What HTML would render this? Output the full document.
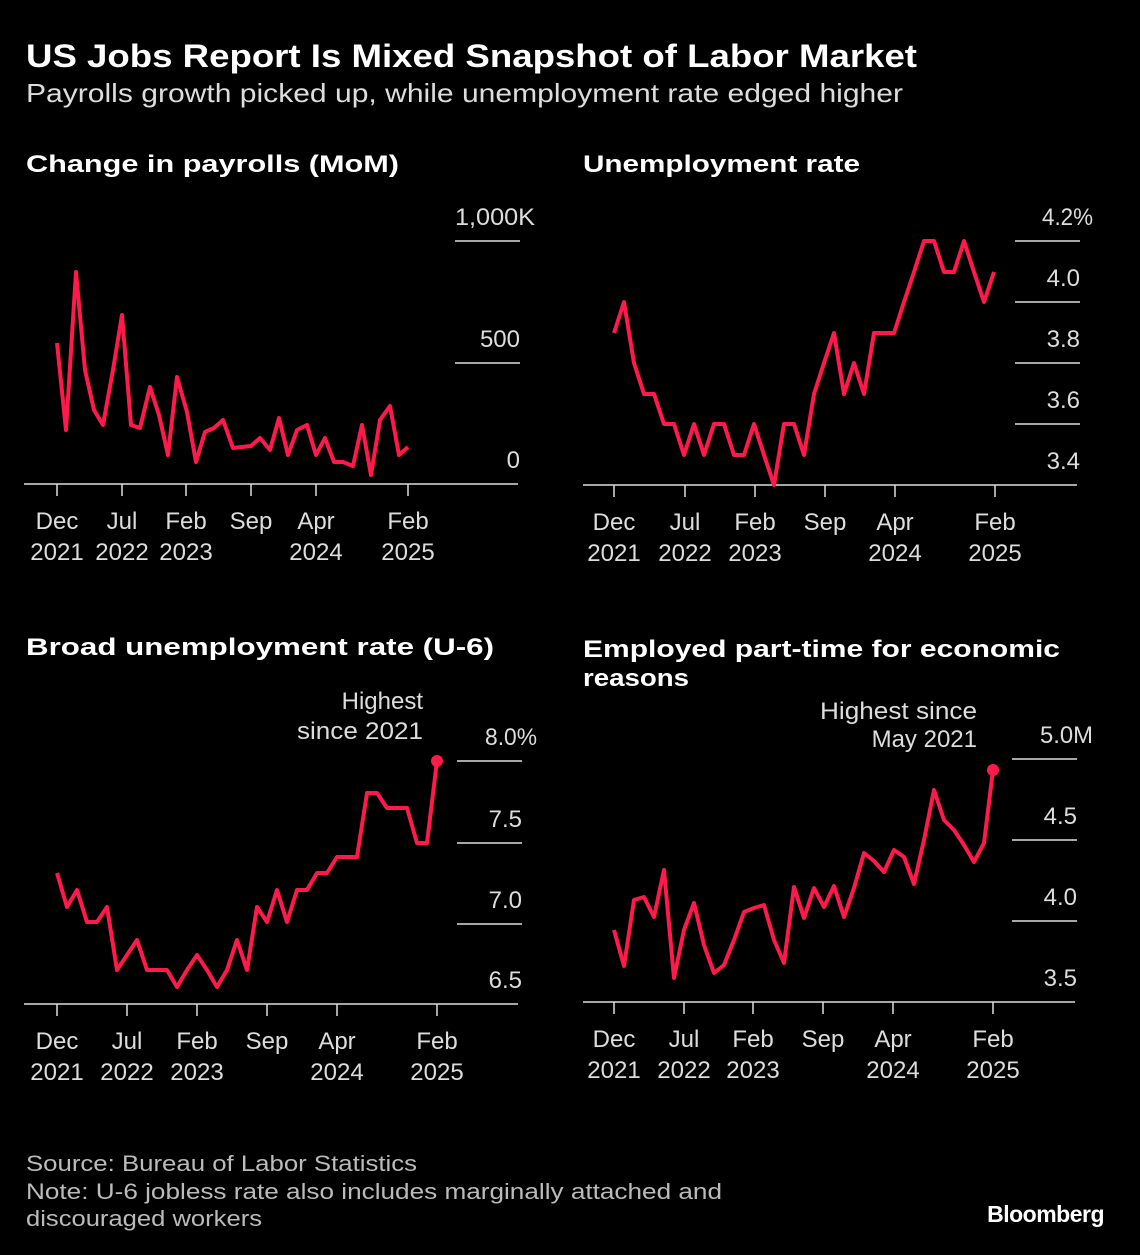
<!DOCTYPE html>
<html><head><meta charset="utf-8"><style>
html,body{margin:0;padding:0;background:#000;}
svg{display:block;font-family:"Liberation Sans","DejaVu Sans",sans-serif;}
.t{fill:#fff;font-weight:bold;}
.lab{fill:#ddd;font-size:24px;}
.ax{stroke:#ddd;stroke-width:1.5;}
.ln{fill:none;stroke:#ff1a4b;stroke-width:4;stroke-linejoin:round;}
</style></head><body>
<svg width="1140" height="1255" viewBox="0 0 1140 1255">
<text x="26" y="67" class="t" font-size="32" textLength="891" lengthAdjust="spacingAndGlyphs">US Jobs Report Is Mixed Snapshot of Labor Market</text>
<text x="26" y="102" fill="#ddd" font-size="26" textLength="877" lengthAdjust="spacingAndGlyphs">Payrolls growth picked up, while unemployment rate edged higher</text>

<text x="26" y="172" class="t" font-size="24" textLength="373" lengthAdjust="spacingAndGlyphs">Change in payrolls (MoM)</text>
<text x="583" y="172" class="t" font-size="24" textLength="277" lengthAdjust="spacingAndGlyphs">Unemployment rate</text>
<text x="26" y="655" class="t" font-size="24" textLength="468" lengthAdjust="spacingAndGlyphs">Broad unemployment rate (U-6)</text>
<text x="583" y="657" class="t" font-size="24" textLength="477" lengthAdjust="spacingAndGlyphs">Employed part-time for economic</text>
<text x="583" y="686" class="t" font-size="24" textLength="106" lengthAdjust="spacingAndGlyphs">reasons</text>

<!-- Panel 1 -->
<line class="ax" x1="455" y1="241" x2="520" y2="241"/>
<line class="ax" x1="455" y1="363" x2="520" y2="363"/>
<line class="ax" x1="24" y1="484" x2="518" y2="484"/>
<text class="lab" x="455" y="225" textLength="80" lengthAdjust="spacingAndGlyphs">1,000K</text>
<text class="lab" x="520" y="347" text-anchor="end">500</text>
<text class="lab" x="520" y="468" text-anchor="end">0</text>
<g class="ax"><line x1="57" y1="484" x2="57" y2="496"/><line x1="122" y1="484" x2="122" y2="496"/><line x1="186" y1="484" x2="186" y2="496"/><line x1="251" y1="484" x2="251" y2="496"/><line x1="316" y1="484" x2="316" y2="496"/><line x1="408" y1="484" x2="408" y2="496"/></g>
<g class="lab" text-anchor="middle">
<text x="57" y="529">Dec</text><text x="57" y="560">2021</text>
<text x="122" y="529">Jul</text><text x="122" y="560">2022</text>
<text x="186" y="529">Feb</text><text x="186" y="560">2023</text>
<text x="251" y="529">Sep</text>
<text x="316" y="529">Apr</text><text x="316" y="560">2024</text>
<text x="408" y="529">Feb</text><text x="408" y="560">2025</text>
</g>
<polyline class="ln" points="57,343 66,430 76,272 85,370 94,410 103,425 113,370 122,315 131,425 140,428 150,387 159,415 168,455 177,377 187,412 196,462 205,432 214,428 223,420 233,448 242,447 251,446 260,438 270,450 279,418 288,455 297,430 307,425 316,455 325,438 334,462 343,462 353,466 362,425 371,475 380,420 390,406 399,455 408,447"/>

<!-- Panel 2 -->
<line class="ax" x1="1015" y1="241" x2="1080" y2="241"/>
<line class="ax" x1="1015" y1="302" x2="1080" y2="302"/>
<line class="ax" x1="1015" y1="363" x2="1080" y2="363"/>
<line class="ax" x1="1015" y1="424" x2="1080" y2="424"/>
<line class="ax" x1="583" y1="485" x2="1077" y2="485"/>
<text class="lab" x="1042" y="225" textLength="51" lengthAdjust="spacingAndGlyphs">4.2%</text>
<g class="lab" text-anchor="end">
<text x="1080" y="286">4.0</text><text x="1080" y="347">3.8</text><text x="1080" y="408">3.6</text><text x="1080" y="469">3.4</text></g>
<g class="ax"><line x1="614" y1="485" x2="614" y2="497"/><line x1="685" y1="485" x2="685" y2="497"/><line x1="755" y1="485" x2="755" y2="497"/><line x1="825" y1="485" x2="825" y2="497"/><line x1="895" y1="485" x2="895" y2="497"/><line x1="995" y1="485" x2="995" y2="497"/></g>
<g class="lab" text-anchor="middle">
<text x="614" y="530">Dec</text><text x="614" y="561">2021</text>
<text x="685" y="530">Jul</text><text x="685" y="561">2022</text>
<text x="755" y="530">Feb</text><text x="755" y="561">2023</text>
<text x="825" y="530">Sep</text>
<text x="895" y="530">Apr</text><text x="895" y="561">2024</text>
<text x="995" y="530">Feb</text><text x="995" y="561">2025</text>
</g>
<polyline class="ln" points="614,333 624,302 634,363 644,394 654,394 664,424 674,424 684,455 694,424 704,455 714,424 724,424 734,455 744,455 754,424 764,455 774,485 784,424 794,424 804,455 814,394 824,363 834,333 844,394 854,363 864,394 874,333 884,333 894,333 904,302 914,272 924,241 934,241 944,272 954,272 964,241 974,272 984,302 994,272"/>

<!-- Panel 3 -->
<line class="ax" x1="457" y1="761" x2="522" y2="761"/>
<line class="ax" x1="457" y1="843" x2="522" y2="843"/>
<line class="ax" x1="457" y1="924" x2="522" y2="924"/>
<line class="ax" x1="24" y1="1004" x2="518" y2="1004"/>
<text class="lab" x="485" y="745" textLength="52" lengthAdjust="spacingAndGlyphs">8.0%</text>
<g class="lab" text-anchor="end">
<text x="522" y="827">7.5</text><text x="522" y="908">7.0</text><text x="522" y="988">6.5</text></g>
<g class="ax"><line x1="57" y1="1004" x2="57" y2="1016"/><line x1="127" y1="1004" x2="127" y2="1016"/><line x1="197" y1="1004" x2="197" y2="1016"/><line x1="267" y1="1004" x2="267" y2="1016"/><line x1="337" y1="1004" x2="337" y2="1016"/><line x1="437" y1="1004" x2="437" y2="1016"/></g>
<g class="lab" text-anchor="middle">
<text x="57" y="1049">Dec</text><text x="57" y="1080">2021</text>
<text x="127" y="1049">Jul</text><text x="127" y="1080">2022</text>
<text x="197" y="1049">Feb</text><text x="197" y="1080">2023</text>
<text x="267" y="1049">Sep</text>
<text x="337" y="1049">Apr</text><text x="337" y="1080">2024</text>
<text x="437" y="1049">Feb</text><text x="437" y="1080">2025</text>
</g>
<polyline class="ln" points="57,873 67,907 77,890 87,922 97,922 107,907 117,970 127,955 137,940 147,970 157,970 167,970 177,987 187,970 197,955 207,970 217,987 227,970 237,940 247,970 257,907 267,922 277,890 287,922 297,890 307,890 317,873 327,873 337,857 347,857 357,857 367,793 377,793 387,808 397,808 407,808 417,843 427,843 437,761"/>
<circle cx="437" cy="761" r="6" fill="#ff1a4b"/>
<text class="lab" x="423" y="709" text-anchor="end">Highest</text>
<text class="lab" x="297" y="739" textLength="126" lengthAdjust="spacingAndGlyphs">since 2021</text>

<!-- Panel 4 -->
<line class="ax" x1="1012" y1="759" x2="1077" y2="759"/>
<line class="ax" x1="1012" y1="840" x2="1077" y2="840"/>
<line class="ax" x1="1012" y1="921" x2="1077" y2="921"/>
<line class="ax" x1="583" y1="1002" x2="1075" y2="1002"/>
<text class="lab" x="1040" y="743" textLength="53" lengthAdjust="spacingAndGlyphs">5.0M</text>
<g class="lab" text-anchor="end">
<text x="1077" y="824">4.5</text><text x="1077" y="905">4.0</text><text x="1077" y="986">3.5</text></g>
<g class="ax"><line x1="614" y1="1002" x2="614" y2="1014"/><line x1="684" y1="1002" x2="684" y2="1014"/><line x1="753" y1="1002" x2="753" y2="1014"/><line x1="823" y1="1002" x2="823" y2="1014"/><line x1="893" y1="1002" x2="893" y2="1014"/><line x1="993" y1="1002" x2="993" y2="1014"/></g>
<g class="lab" text-anchor="middle">
<text x="614" y="1047">Dec</text><text x="614" y="1078">2021</text>
<text x="684" y="1047">Jul</text><text x="684" y="1078">2022</text>
<text x="753" y="1047">Feb</text><text x="753" y="1078">2023</text>
<text x="823" y="1047">Sep</text>
<text x="893" y="1047">Apr</text><text x="893" y="1078">2024</text>
<text x="993" y="1047">Feb</text><text x="993" y="1078">2025</text>
</g>
<polyline class="ln" points="614,930 624,966 634,900 644,897 654,917 664,870 674,978 684,930 694,903 704,945 714,973 724,965 734,940 744,912 754,908 764,905 774,940 784,963 794,887 804,918 814,888 824,907 834,886 844,917 854,888 864,853 874,861 884,872 894,850 904,857 914,884 924,840 934,790 944,820 954,830 964,845 974,862 984,843 993,770"/>
<circle cx="993" cy="770" r="6" fill="#ff1a4b"/>
<text class="lab" x="820" y="719" textLength="157" lengthAdjust="spacingAndGlyphs">Highest since</text>
<text class="lab" x="977" y="747" text-anchor="end">May 2021</text>

<g fill="#bbb" font-size="22">
<text x="26" y="1171" textLength="391" lengthAdjust="spacingAndGlyphs">Source: Bureau of Labor Statistics</text>
<text x="26" y="1199" textLength="696" lengthAdjust="spacingAndGlyphs">Note: U-6 jobless rate also includes marginally attached and</text>
<text x="26" y="1226" textLength="236" lengthAdjust="spacingAndGlyphs">discouraged workers</text>
</g>
<text x="1104" y="1222" text-anchor="end" fill="#fff" font-weight="bold" font-size="23" letter-spacing="-0.5">Bloomberg</text>
</svg>
</body></html>
